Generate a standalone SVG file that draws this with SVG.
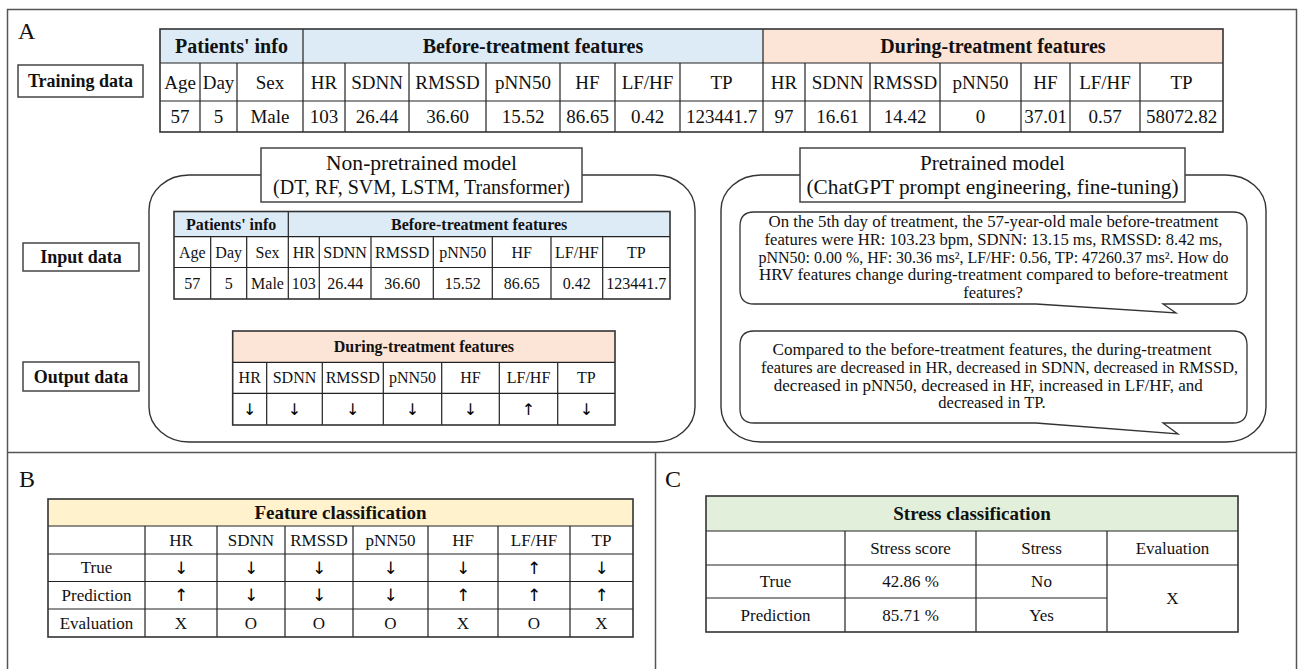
<svg xmlns="http://www.w3.org/2000/svg" width="1298" height="669" viewBox="0 0 1298 669">
<style>
text{font-family:"Liberation Serif","Times New Roman",serif;fill:#111}
.c{text-anchor:middle;dominant-baseline:central}
.b{font-weight:bold}
.s19{font-size:19px}
.s20{font-size:20px}
.s16{font-size:16px}
.s17{font-size:17px}
.s18{font-size:18px}
.ar{opacity:0.99}
.ar text{font-family:"DejaVu Sans","Noto Sans",sans-serif;fill:#000}
.lbl{font-size:24px}
.grid{fill:none;stroke:#222;stroke-width:1.2}
.outer{fill:none;stroke:#333;stroke-width:1.6}
.frame{fill:none;stroke:#555;stroke-width:1.5}
.box{fill:#fff;stroke:#444;stroke-width:1.5}
.rbox{fill:none;stroke:#333;stroke-width:1.4}
.bub{fill:#fff;stroke:#333;stroke-width:1.3}
.blue{fill:#DDEBF7}
.orange{fill:#FCE4D6}
.yellow{fill:#FFF2CC}
.green{fill:#E2EFDA}
.bt{font-size:16.5px;text-anchor:middle}
</style>
<rect width="1298" height="669" fill="#fff"/>

<g id="frame">
<path class="frame" d="M7.5,669 V9.5 H1296.5 V669 M7.5,452.5 H1296.5 M655.5,452.5 V669"/>
<text class="lbl" x="18" y="39">A</text>
<text class="lbl" x="19" y="487">B</text>
<text class="lbl" x="665" y="487">C</text>
</g>

<g id="training-label">
<rect class="box" x="18" y="65" width="125" height="32"/>
<text class="c b s18" x="80.5" y="81">Training data</text>
</g>

<g id="training-table">
<rect class="blue" x="160" y="29" width="603" height="34"/>
<rect class="orange" x="763" y="29" width="460" height="34"/>
<path class="grid" d="M160,63 H1223 M160,101 H1223 M303,29 V63 M763,29 V63 M200,63 V132 M237,63 V132 M303,63 V132 M345,63 V132 M409,63 V132 M486,63 V132 M560,63 V132 M615,63 V132 M680,63 V132 M763,63 V132 M805,63 V132 M870,63 V132 M940,63 V132 M1021,63 V132 M1070,63 V132 M1140,63 V132"/>
<rect class="outer" x="160" y="29" width="1063" height="103"/>
<text class="c b s20" x="231.5" y="46">Patients' info</text>
<text class="c b s20" x="533" y="46">Before-treatment features</text>
<text class="c b s20" x="993" y="46">During-treatment features</text>
<g class="s19">
<text class="c" x="180" y="82">Age</text>
<text class="c" x="218.5" y="82">Day</text>
<text class="c" x="270" y="82">Sex</text>
<text class="c" x="324" y="82">HR</text>
<text class="c" x="377" y="82">SDNN</text>
<text class="c" x="447.5" y="82">RMSSD</text>
<text class="c" x="523" y="82">pNN50</text>
<text class="c" x="587.5" y="82">HF</text>
<text class="c" x="647.5" y="82">LF/HF</text>
<text class="c" x="721.5" y="82">TP</text>
<text class="c" x="784" y="82">HR</text>
<text class="c" x="837.5" y="82">SDNN</text>
<text class="c" x="905" y="82">RMSSD</text>
<text class="c" x="980.5" y="82">pNN50</text>
<text class="c" x="1045.5" y="82">HF</text>
<text class="c" x="1105" y="82">LF/HF</text>
<text class="c" x="1181.5" y="82">TP</text>
<text class="c" x="180" y="116.5">57</text>
<text class="c" x="218.5" y="116.5">5</text>
<text class="c" x="270" y="116.5">Male</text>
<text class="c" x="324" y="116.5">103</text>
<text class="c" x="377" y="116.5">26.44</text>
<text class="c" x="447.5" y="116.5">36.60</text>
<text class="c" x="523" y="116.5">15.52</text>
<text class="c" x="587.5" y="116.5">86.65</text>
<text class="c" x="647.5" y="116.5">0.42</text>
<text class="c" x="721.5" y="116.5">123441.7</text>
<text class="c" x="784" y="116.5">97</text>
<text class="c" x="837.5" y="116.5">16.61</text>
<text class="c" x="905" y="116.5">14.42</text>
<text class="c" x="980.5" y="116.5">0</text>
<text class="c" x="1045.5" y="116.5">37.01</text>
<text class="c" x="1105" y="116.5">0.57</text>
<text class="c" x="1181.5" y="116.5">58072.82</text>
</g>
</g>

<g id="input-label">
<rect class="box" x="23" y="243" width="116" height="28"/>
<text class="c b s18" x="81" y="257">Input data</text>
</g>
<g id="output-label">
<rect class="box" x="23" y="362" width="116" height="29"/>
<text class="c b s18" x="81" y="376.5">Output data</text>
</g>

<g id="non-pretrained-model">
<rect class="rbox" x="149" y="175" width="546" height="267" rx="40" ry="35"/>
<rect class="box" x="261" y="148" width="321" height="54"/>
<text class="s20" x="421.5" y="170" text-anchor="middle" textLength="191" lengthAdjust="spacingAndGlyphs">Non-pretrained model</text>
<text class="s20" x="421.5" y="194" text-anchor="middle">(DT, RF, SVM, LSTM, Transformer)</text>
</g>

<g id="input-table">
<rect class="blue" x="174" y="211.5" width="496" height="25.2"/>
<path class="grid" d="M174,236.7 H670 M174,267.5 H670 M288.3,211.5 V236.7 M210.7,236.7 V299 M246.7,236.7 V299 M288.3,236.7 V299 M319.3,236.7 V299 M371,236.7 V299 M433.3,236.7 V299 M492.3,236.7 V299 M551,236.7 V299 M602.7,236.7 V299"/>
<rect class="outer" x="174" y="211.5" width="496" height="87.5"/>
<text class="c b s16" x="231.15" y="224.1">Patients' info</text>
<text class="c b s16" x="479.15" y="224.1">Before-treatment features</text>
<g class="s16">
<text class="c" x="192.35" y="252.1">Age</text>
<text class="c" x="228.7" y="252.1">Day</text>
<text class="c" x="267.5" y="252.1">Sex</text>
<text class="c" x="303.8" y="252.1">HR</text>
<text class="c" x="345.15" y="252.1">SDNN</text>
<text class="c" x="402.15" y="252.1">RMSSD</text>
<text class="c" x="462.8" y="252.1">pNN50</text>
<text class="c" x="521.65" y="252.1">HF</text>
<text class="c" x="576.85" y="252.1">LF/HF</text>
<text class="c" x="636.35" y="252.1">TP</text>
<text class="c" x="192.35" y="283.25">57</text>
<text class="c" x="228.7" y="283.25">5</text>
<text class="c" x="267.5" y="283.25">Male</text>
<text class="c" x="303.8" y="283.25">103</text>
<text class="c" x="345.15" y="283.25">26.44</text>
<text class="c" x="402.15" y="283.25">36.60</text>
<text class="c" x="462.8" y="283.25">15.52</text>
<text class="c" x="521.65" y="283.25">86.65</text>
<text class="c" x="576.85" y="283.25">0.42</text>
<text class="c" x="636.35" y="283.25">123441.7</text>
</g>
</g>

<g id="output-table">
<rect class="orange" x="232.7" y="331" width="382.3" height="31.3"/>
<path class="grid" d="M232.7,362.3 H615 M232.7,393.3 H615 M266.7,362.3 V425 M322.3,362.3 V425 M383.3,362.3 V425 M441.7,362.3 V425 M499.3,362.3 V425 M557.7,362.3 V425"/>
<rect class="outer" x="232.7" y="331" width="382.3" height="94"/>
<text class="c b s16" x="423.85" y="346.65">During-treatment features</text>
<g class="s16">
<text class="c" x="249.7" y="377.8">HR</text>
<text class="c" x="294.5" y="377.8">SDNN</text>
<text class="c" x="352.8" y="377.8">RMSSD</text>
<text class="c" x="412.5" y="377.8">pNN50</text>
<text class="c" x="470.5" y="377.8">HF</text>
<text class="c" x="528.5" y="377.8">LF/HF</text>
<text class="c" x="586.35" y="377.8">TP</text>
</g>
<g class="s16 ar">
<text class="c" x="249.7" y="409.15">↓</text>
<text class="c" x="294.5" y="409.15">↓</text>
<text class="c" x="352.8" y="409.15">↓</text>
<text class="c" x="412.5" y="409.15">↓</text>
<text class="c" x="470.5" y="409.15">↓</text>
<text class="c" x="528.5" y="409.15">↑</text>
<text class="c" x="586.35" y="409.15">↓</text>
</g>
</g>

<g id="pretrained-model">
<rect class="rbox" x="721" y="175" width="545" height="267" rx="40" ry="35"/>
<rect class="box" x="800" y="148" width="385" height="54"/>
<text class="s20" x="992.5" y="170" text-anchor="middle" textLength="145" lengthAdjust="spacingAndGlyphs">Pretrained model</text>
<text class="s20" x="992.5" y="194" text-anchor="middle" textLength="372" lengthAdjust="spacingAndGlyphs">(ChatGPT prompt engineering, fine-tuning)</text>
</g>

<g id="prompt-bubble">
<path class="bub" d="M754,212 H1233 Q1247,212 1247,226 V290 Q1247,304 1233,304 H1163 L1176,313 L1036,304 H754 Q740,304 740,290 V226 Q740,212 754,212 Z"/>
<text class="bt" x="993.5" y="227" textLength="450" lengthAdjust="spacingAndGlyphs">On the 5th day of treatment, the 57-year-old male before-treatment</text>
<text class="bt" x="993.5" y="245" textLength="458" lengthAdjust="spacingAndGlyphs">features were HR: 103.23 bpm, SDNN: 13.15 ms, RMSSD: 8.42 ms,</text>
<text class="bt" x="993.5" y="262.7" textLength="470" lengthAdjust="spacingAndGlyphs">pNN50: 0.00 %, HF: 30.36 ms², LF/HF: 0.56, TP: 47260.37 ms². How do</text>
<text class="bt" x="993.5" y="280.3" textLength="469" lengthAdjust="spacingAndGlyphs">HRV features change during-treatment compared to before-treatment</text>
<text class="bt" x="993" y="298">features?</text>
</g>

<g id="answer-bubble">
<path class="bub" d="M754,331 H1233 Q1247,331 1247,345 V409 Q1247,423 1233,423 H1163 L1178,434 L1036,423 H754 Q740,423 740,409 V345 Q740,331 754,331 Z"/>
<text class="bt" x="992" y="355" textLength="439" lengthAdjust="spacingAndGlyphs">Compared to the before-treatment features, the during-treatment</text>
<text class="bt" x="999.5" y="373" textLength="477" lengthAdjust="spacingAndGlyphs">features are decreased in HR, decreased in SDNN, decreased in RMSSD,</text>
<text class="bt" x="988.3" y="390.7" textLength="429" lengthAdjust="spacingAndGlyphs">decreased in pNN50, decreased in HF, increased in LF/HF, and</text>
<text class="bt" x="992" y="408.3">decreased in TP.</text>
</g>

<g id="feature-classification">
<rect class="yellow" x="48" y="499" width="585" height="27"/>
<path class="grid" d="M48,526 H633 M48,554 H633 M48,581.5 H633 M48,609 H633 M145,526 V637 M217,526 V637 M285,526 V637 M353,526 V637 M428,526 V637 M498,526 V637 M570,526 V637"/>
<rect class="outer" x="48" y="499" width="585" height="138"/>
<text class="c b s19" x="340.5" y="512.5">Feature classification</text>
<g class="s17">
<text class="c" x="181" y="540">HR</text>
<text class="c" x="251" y="540">SDNN</text>
<text class="c" x="319" y="540">RMSSD</text>
<text class="c" x="390.5" y="540">pNN50</text>
<text class="c" x="463" y="540">HF</text>
<text class="c" x="534" y="540">LF/HF</text>
<text class="c" x="601.5" y="540">TP</text>
<text class="c" x="96.5" y="567.75">True</text>
<text class="c" x="96.5" y="595.25">Prediction</text>
<text class="c" x="96.5" y="623">Evaluation</text>
<text class="c" x="181" y="623">X</text>
<text class="c" x="251" y="623">O</text>
<text class="c" x="319" y="623">O</text>
<text class="c" x="390.5" y="623">O</text>
<text class="c" x="463" y="623">X</text>
<text class="c" x="534" y="623">O</text>
<text class="c" x="601.5" y="623">X</text>
</g>
<g class="s17 ar">
<text class="c" x="181" y="567.75">↓</text>
<text class="c" x="251" y="567.75">↓</text>
<text class="c" x="319" y="567.75">↓</text>
<text class="c" x="390.5" y="567.75">↓</text>
<text class="c" x="463" y="567.75">↓</text>
<text class="c" x="534" y="567.75">↑</text>
<text class="c" x="601.5" y="567.75">↓</text>
<text class="c" x="181" y="595.25">↑</text>
<text class="c" x="251" y="595.25">↓</text>
<text class="c" x="319" y="595.25">↓</text>
<text class="c" x="390.5" y="595.25">↓</text>
<text class="c" x="463" y="595.25">↑</text>
<text class="c" x="534" y="595.25">↑</text>
<text class="c" x="601.5" y="595.25">↑</text>
</g>
</g>

<g id="stress-classification">
<rect class="green" x="706" y="496" width="532" height="35"/>
<path class="grid" d="M706,531 H1238 M706,565 H1238 M706,598 H1107 M845,531 V632 M976,531 V632 M1107,531 V632"/>
<rect class="outer" x="706" y="496" width="532" height="136"/>
<text class="c b s19" x="972" y="513.5">Stress classification</text>
<g class="s17">
<text class="c" x="910.5" y="548">Stress score</text>
<text class="c" x="1041.5" y="548">Stress</text>
<text class="c" x="1172.5" y="548">Evaluation</text>
<text class="c" x="775.5" y="581.5">True</text>
<text class="c" x="910.5" y="581.5">42.86 %</text>
<text class="c" x="1041.5" y="581.5">No</text>
<text class="c" x="775.5" y="615">Prediction</text>
<text class="c" x="910.5" y="615">85.71 %</text>
<text class="c" x="1041.5" y="615">Yes</text>
<text class="c" x="1172.5" y="598">X</text>
</g>
</g>
</svg>
